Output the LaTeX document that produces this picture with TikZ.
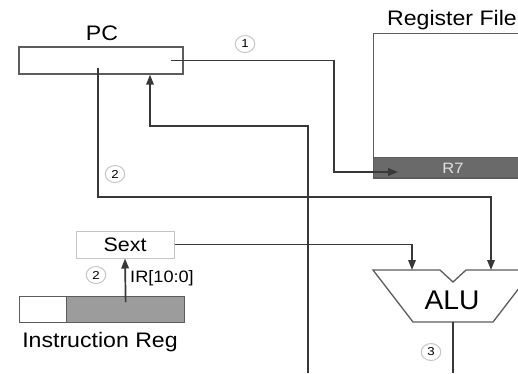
\documentclass[tikz,border=0pt]{standalone}
\usepackage{fontspec}
\setmainfont{Liberation Sans}
\usetikzlibrary{arrows.meta}

\definecolor{wirec}{HTML}{383838}
\definecolor{boxc}{HTML}{5C5C5C}
\definecolor{sextc}{HTML}{C4C4C4}
\definecolor{irc}{HTML}{9C9C9C}
\definecolor{r7c}{HTML}{6A6A6A}
\definecolor{r7t}{HTML}{E2E2E2}

\tikzset{
  wire/.style={draw=wirec, line width=1.7pt, line join=miter},
  arr/.style={-{Triangle[length=10pt,width=7.5pt]}},
  regbox/.style={draw=boxc, line width=1.3pt, inner sep=0pt},
  lbl/.style={font=\fontsize{21}{21}\selectfont, xscale=1.1, inner sep=0pt},
  num/.style={circle, draw=gray!45, line width=1pt, minimum size=17pt,
              inner sep=0pt, font=\fontsize{11.5}{11.5}\selectfont, xscale=1.15},
}

\begin{document}
\begin{tikzpicture}[x=1pt, y=-1pt]

  \useasboundingbox (0,0) rectangle (518,373);
  \clip (0,0) rectangle (518,373);

  %% ════ 寄存器与部件 ════
  \node[regbox, minimum width=164pt, minimum height=27pt] (pc) at (101,60.5) {};
  \node[lbl] (pclbl) at (102,33) {PC};

  \node[regbox, anchor=north west, minimum width=160pt, minimum height=145pt] (rf) at (373,33) {};
  \node[lbl] (rflbl) at (452,20) {Register File};
  \node[regbox, fill=r7c, anchor=south west, minimum width=160pt, minimum height=20pt] (r7) at (373,178) {};
  \node[text=r7t, font=\fontsize{15}{15}\selectfont, xscale=1.1, inner sep=0pt] (r7lbl) at (453,168) {R7};

  \node[draw=sextc, line width=1pt, minimum width=98pt, minimum height=27pt, inner sep=0pt] (sext) at (125,244.5) {};
  \node[font=\fontsize{19.5}{19.5}\selectfont, xscale=1.1, inner sep=0pt] (sextlbl) at (125,244.5) {Sext};

  \node[regbox, fill=white, anchor=north west, minimum width=47pt, minimum height=26pt] (irlo) at (19,296) {};
  \node[regbox, fill=irc, anchor=north west, minimum width=118pt, minimum height=26pt] (irhi) at (66,296) {};
  \node[lbl] (irlbl) at (100,342) {Instruction Reg};

  % ALU 梯形，直接画
  \draw[draw=boxc, line width=1.3pt, fill=white]
    (373,270) -- (440,270) -- (453,282) -- (466,270) -- (533,270)
    -- (493,322) -- (413,322) -- cycle;
  \node[lbl, font=\fontsize{27}{27}\selectfont, xscale=0.95] (alu) at (452,300) {ALU};
  \coordinate (aluA) at (412,270);
  \coordinate (aluB) at (491,270);
  \coordinate (aluout) at (453,322);
  \coordinate (aluend) at (453,373);
  \coordinate (feed) at (308,373);

  %% ════ 连线 ════
  \draw[wire, arr] ([xshift=-13pt]pc.east) -- (334,60.5) |- (398,172);
  \draw[wire, arr] ([shift={(-3pt,7pt)}]pc.south) |- (491,197) -- (aluB);
  \draw[wire, arr] (sext.east) -| (aluA);
  \draw[wire, arr] ([yshift=-6pt]irhi.north) -- (sext.south);
  \draw[wire, arr] (feed) -- (308,126) -| ([xshift=49pt]pc.south);
  \draw[wire] (aluout) -- (aluend);

  %% ════ 标签 ════
  \node[font=\fontsize{16.5}{16.5}\selectfont, xscale=1.1, anchor=west, inner sep=0pt] (irf) at (130,278) {IR[10:0]};
  \node[num] (n1) at (245,44) {1};
  \node[num] (n2a) at (115,174) {2};
  \node[num] (n2b) at (96,275) {2};
  \node[num] (n3) at (431,352) {3};
\end{tikzpicture}
\end{document}
